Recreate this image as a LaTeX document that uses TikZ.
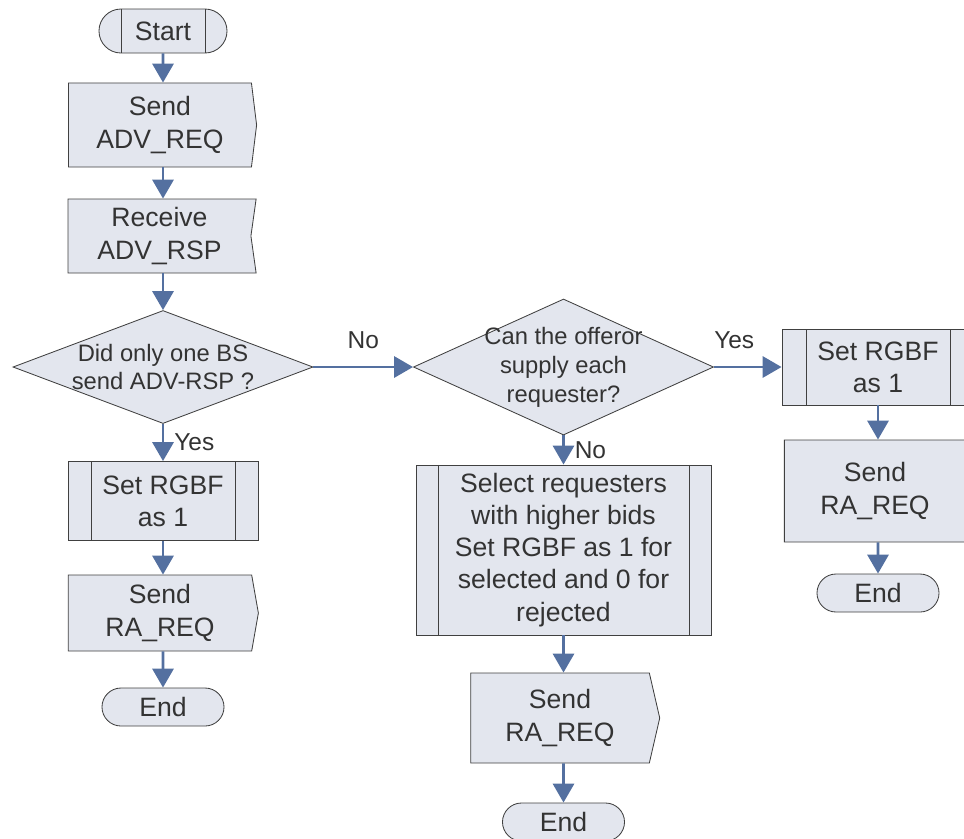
\documentclass[tikz,border=0pt]{standalone}
\usepackage{fontspec}
\setmainfont{Liberation Sans}
\usetikzlibrary{shapes.geometric,shapes.symbols,shapes.misc,arrows.meta}
\definecolor{boxfill}{HTML}{E3E6EE}
\definecolor{boxline}{HTML}{404040}
\definecolor{flowblue}{HTML}{5470A0}
\definecolor{txt}{HTML}{333333}
\tikzset{
  base/.style={draw=boxline, fill=boxfill, text=txt, line width=0.6pt, align=center, inner sep=0pt,
    font=\fontsize{18.9}{22.8}\selectfont},
  sidelines/.style={path picture={
    \draw[boxline, line width=0.6pt]
      ([xshift=#1]path picture bounding box.north west) -- ([xshift=#1]path picture bounding box.south west)
      ([xshift=-#1]path picture bounding box.north east) -- ([xshift=-#1]path picture bounding box.south east);}},
  term/.style={base, rounded rectangle, minimum width=3.05cm, minimum height=0.95cm},
  sendbox/.style={base, signal, signal to=east, signal from=nowhere, signal pointer angle=166},
  recvbox/.style={base, signal, signal to=nowhere, signal from=east, signal pointer angle=164},
  procbox/.style={base, rectangle, sidelines=#1},
  procbox/.default=0.575cm,
  decision/.style={base, diamond, minimum width=7.5cm},
  qtext/.style={text=txt, align=center, font=\fontsize{16.9}{20.6}\selectfont},
  flow/.style={draw=flowblue, line width=2.1pt, -{Triangle[length=13.5pt,width=15pt]}},
  lbl/.style={text=txt, inner sep=2pt, font=\fontsize{17.4}{20}\selectfont}
}
\begin{document}
\begin{tikzpicture}[x=0.025cm, y=-0.025cm]
    \useasboundingbox (0,0) rectangle (964,838);
    \clip (0,0) rectangle (964,838);

    % left column
    \node[term, sidelines=0.55cm, minimum width=3.2cm, minimum height=1.1cm] (start) at (163,31) {Start};
    \node[sendbox, minimum width=4.7cm, minimum height=2.1cm] (sendadv) at (160,125) {Send\\ADV\_REQ};
    \node[recvbox, minimum width=4.7cm, minimum height=1.85cm] (recvadv) at (159.5,236) {Receive\\ADV\_RSP};
    \node[decision, minimum height=2.825cm] (onebs) at (163,367) {};
    \node[qtext] (onebstext) at (onebs) {Did only one BS\\send ADV-RSP ?};
    \node[procbox, minimum width=4.75cm, minimum height=1.975cm] (setleft) at (163,501) {Set RGBF\\as 1};
    \node[sendbox, signal pointer angle=160, minimum width=4.75cm, minimum height=1.9cm] (sendleft) at (160,613) {Send\\RA\_REQ};
    \node[term] (endleft) at (163,707) {End};

    % middle column
    \node[decision, minimum height=3.4cm] (supply) at (563.5,367) {};
    \node[qtext] (supplytext) at (supply) {Can the offeror\\supply each\\requester?};
    \node[procbox=0.55cm, minimum width=7.375cm, minimum height=4.25cm] (select) at (563.5,550)
        {Select requesters\\with higher bids\\Set RGBF as 1 for\\selected and 0 for\\rejected};
    \node[sendbox, signal pointer angle=154, minimum width=4.725cm, minimum height=2.25cm] (sendmid) at (560,718) {Send\\RA\_REQ};
    \node[term] (endmid) at (563.5,822) {End};

    % right column
    \node[procbox=0.6cm, minimum width=4.8cm, minimum height=1.9cm] (setright) at (878,367) {Set RGBF\\as 1};
    \node[sendbox, signal pointer angle=156, minimum width=4.8cm, minimum height=2.55cm] (sendright) at (875,491) {Send\\RA\_REQ};
    \node[term] (endright) at (878,593) {End};

    % connectors
    \draw[flow] (start) -- (start |- sendadv.north);
    \draw[flow] (start |- sendadv.south) -- (start |- recvadv.north);
    \draw[flow] (start |- recvadv.south) -- (onebs);
    \draw[flow] (onebs) -- node[lbl, right, xshift=5pt] (yesleft) {Yes} (setleft);
    \draw[flow] (setleft) -- (setleft |- sendleft.north);
    \draw[flow] (setleft |- sendleft.south) -- (endleft);
    \draw[flow] (onebs) -- node[lbl, above, yshift=10pt] (nomid) {No} (supply);
    \draw[flow] (supply) -- node[lbl, right, xshift=5pt] (nodown) {No} (select);
    \draw[flow] (select) -- (select |- sendmid.north);
    \draw[flow] (select |- sendmid.south) -- (endmid);
    \draw[flow] (supply) -- node[lbl, above, pos=0.3, yshift=10pt] (yesright) {Yes} (setright);
    \draw[flow] (setright) -- (setright |- sendright.north);
    \draw[flow] (setright |- sendright.south) -- (endright);
\end{tikzpicture}
\end{document}
